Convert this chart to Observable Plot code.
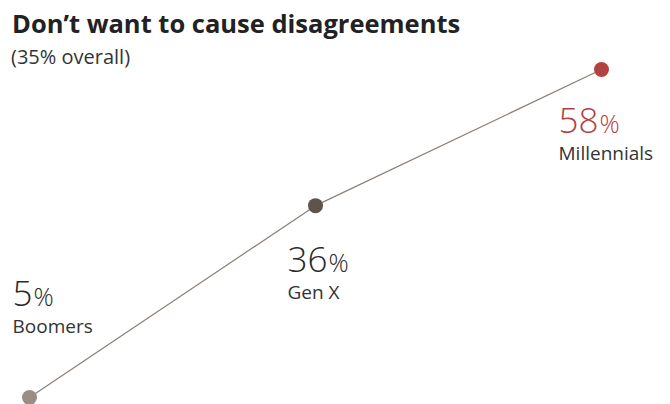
<!DOCTYPE html>
<html>
<head>
<meta charset="utf-8">
<script src="https://cdn.jsdelivr.net/npm/d3@7"></script>
<script src="https://cdn.jsdelivr.net/npm/@observablehq/plot@0.6"></script>
<style>
  html, body { margin: 0; padding: 0; background: #fff; }
  #wrap { position: relative; width: 670px; height: 404px; overflow: hidden; font-family: "Open Sans", "Noto Sans", sans-serif; }
  #title { position: absolute; left: 12px; top: 6px; font-size: 25.5px; font-weight: 700; color: #222; line-height: 34px; }
  #subtitle { position: absolute; left: 11px; top: 44px; font-size: 20px; color: #333; line-height: 26px; }
  #chart { position: absolute; left: 0; top: 0; }
</style>
</head>
<body>
<div id="wrap">
  <div id="chart"></div>
  <div id="title">Don’t want to cause disagreements</div>
  <div id="subtitle">(35% overall)</div>
</div>
<script>
const generations = ["Boomers", "Gen X", "Millennials"];
const shares = [5, 36, 58];
const dotColors = ["#9b8d82", "#5e544d", "#b4403f"];
const numberColors = ["#2a2a2a", "#2a2a2a", "#b4403f"];

const data = generations.map((g, i) => ({gen: g, value: shares[i], dot: dotColors[i], num: numberColors[i]}));

function labels(gen, dx, dy) {
  const sub = data.filter(d => d.gen === gen);
  return [
    Plot.text(sub, {x: "gen", y: "value", text: d => d.value + "%", fill: "num", dx, dy, textAnchor: "start", fontSize: 35, fontWeight: 300, className: "num-label"}),
    Plot.text(sub, {x: "gen", y: "value", text: "gen", fill: "#333", dx, dy: dy + 32, textAnchor: "start", fontSize: 19})
  ];
}

const chart = Plot.plot({
  width: 670,
  height: 404,
  margin: 0,
  style: {fontFamily: "'Open Sans', 'Noto Sans', sans-serif", background: "transparent", overflow: "visible"},
  x: {type: "point", domain: generations, range: [28, 601], padding: 0, axis: null},
  y: {domain: [5, 58], range: [397, 69], axis: null},
  color: {type: "identity"},
  marks: [
    Plot.line(data, {x: "gen", y: "value", stroke: "#8c7f75", strokeWidth: 1.2}),
    Plot.dot(data, {x: "gen", y: "value", fill: "dot", r: 7.5}),
    ...labels("Boomers", -17, -103),
    ...labels("Gen X", -28, 55),
    ...labels("Millennials", -43, 52)
  ]
});

// render the "%" sign smaller
d3.select(chart).selectAll(".num-label text").each(function() {
  const t = d3.select(this);
  const s = t.text();
  if (s.endsWith("%")) {
    t.text(null);
    t.append("tspan").text(s.slice(0, -1));
    t.append("tspan").attr("font-size", 25).attr("dx", 1).text("%");
  }
});

document.getElementById("chart").appendChild(chart);
</script>
</body>
</html>
